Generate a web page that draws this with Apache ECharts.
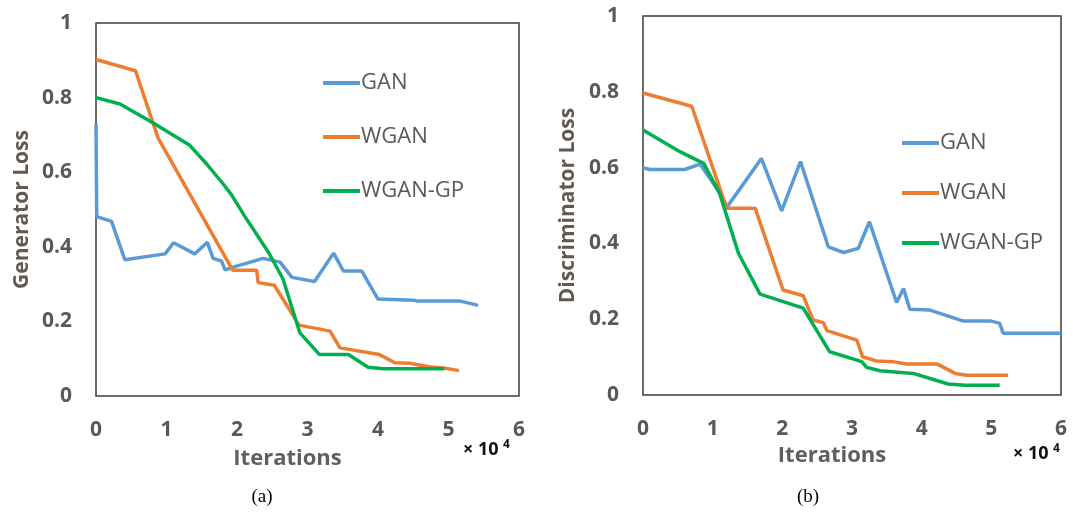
<!DOCTYPE html>
<html>
<head>
<meta charset="utf-8">
<script src="https://cdn.jsdelivr.net/npm/echarts@6/dist/echarts.min.js"></script>
<style>
  html, body { margin: 0; padding: 0; background: #fff; }
  #chart { width: 1073px; height: 514px; }
</style>
</head>
<body>
<div id="chart"></div>
<script>
// Loss curves, iterations in units of 10^4
const seriesNames = ['GAN', 'WGAN', 'WGAN-GP'];
const xTicks = [0, 1, 2, 3, 4, 5, 6];
const yTicks = [0, 0.2, 0.4, 0.6, 0.8, 1];

// (a) Generator loss
const genGAN = [[0,0.731],[0.01,0.481],[0.22,0.468],[0.41,0.365],[0.98,0.381],[1.1,0.411],[1.4,0.381],[1.58,0.412],[1.66,0.369],[1.78,0.362],[1.83,0.338],[1.97,0.347],[2.37,0.369],[2.61,0.359],[2.78,0.318],[3.1,0.307],[3.37,0.383],[3.51,0.335],[3.77,0.335],[4.0,0.26],[4.5,0.257],[4.55,0.255],[5.15,0.255],[5.42,0.243]];
const genWGAN = [[0,0.902],[0.56,0.872],[0.88,0.692],[1.94,0.337],[2.28,0.337],[2.3,0.304],[2.53,0.297],[2.88,0.19],[3.32,0.174],[3.46,0.129],[4.02,0.111],[4.24,0.089],[4.45,0.088],[4.74,0.078],[4.93,0.075],[5.15,0.068]];
const genWGANGP = [[0,0.8],[0.34,0.783],[0.8,0.733],[1.33,0.672],[1.57,0.622],[1.81,0.567],[1.92,0.54],[2.1,0.485],[2.45,0.384],[2.65,0.315],[2.89,0.17],[3.17,0.111],[3.58,0.111],[3.86,0.077],[4.07,0.073],[4.94,0.073]];

// (b) Discriminator loss
const disGAN = [[0,0.6],[0.1,0.595],[0.6,0.595],[0.82,0.609],[1.06,0.545],[1.21,0.497],[1.7,0.624],[1.99,0.486],[2.26,0.616],[2.66,0.391],[2.88,0.376],[3.09,0.387],[3.25,0.457],[3.64,0.244],[3.74,0.281],[3.83,0.226],[4.12,0.224],[4.6,0.195],[5.0,0.195],[5.12,0.189],[5.17,0.163],[6.0,0.163]];
const disWGAN = [[0,0.797],[0.7,0.762],[1.2,0.493],[1.61,0.493],[2.01,0.277],[2.3,0.262],[2.44,0.198],[2.59,0.191],[2.64,0.17],[3.07,0.145],[3.15,0.101],[3.35,0.09],[3.59,0.088],[3.78,0.082],[4.22,0.082],[4.48,0.057],[4.65,0.052],[5.24,0.052]];
const disWGANGP = [[0,0.699],[0.53,0.642],[0.87,0.611],[1.1,0.532],[1.37,0.374],[1.68,0.266],[2.3,0.229],[2.68,0.114],[3.14,0.088],[3.21,0.073],[3.4,0.064],[3.88,0.057],[4.38,0.029],[4.62,0.026],[5.12,0.026]];

const colors = ['#5B9BD5', '#ED7D31', '#00B050'];
const labelGrey = '#595959';
const tickFont = { fontFamily: 'Open Sans', fontWeight: 'bold', fontSize: 21, color: labelGrey };

function xAxis(gridIndex, nameGap) {
  return {
    type: 'value', gridIndex, min: xTicks[0], max: xTicks[xTicks.length - 1], interval: 1,
    axisLine: { show: false }, axisTick: { show: false }, splitLine: { show: false },
    axisLabel: Object.assign({ margin: 24 }, tickFont),
    name: 'Iterations', nameLocation: 'middle', nameGap,
    nameTextStyle: { fontFamily: 'Open Sans', fontWeight: 'bold', fontSize: 22, color: '#5f5f5f', padding: [0, 40, 0, 0] }
  };
}
function yAxis(gridIndex, name, nameGap) {
  return {
    type: 'value', gridIndex, min: yTicks[0], max: yTicks[yTicks.length - 1], interval: 0.2,
    axisLine: { show: false }, axisTick: { show: false }, splitLine: { show: false },
    axisLabel: Object.assign({ margin: 24 }, tickFont),
    name, nameLocation: 'middle', nameGap,
    nameTextStyle: { fontFamily: 'Open Sans', fontWeight: 'bold', fontSize: 21, color: '#625850' }
  };
}
function line(name, data, idx) {
  return {
    type: 'line', name, data, xAxisIndex: idx, yAxisIndex: idx,
    showSymbol: false, symbol: 'none',
    lineStyle: { width: 3.5, color: colors[seriesNames.indexOf(name)] },
    itemStyle: { color: colors[seriesNames.indexOf(name)] },
    animation: false
  };
}
function legend(left, top, gap) {
  return {
    orient: 'vertical', left, top, itemGap: gap, icon: 'rect', itemWidth: 37, itemHeight: 4,
    data: seriesNames,
    textStyle: { fontFamily: 'Open Sans', fontSize: 22, lineHeight: 22, color: labelGrey, padding: [0, 0, 0, -4] }
  };
}
function text(x, y, str, style) {
  return { type: 'text', x, y, style: Object.assign({ text: str }, style) };
}

const chart = echarts.init(document.getElementById('chart'), null, { renderer: 'canvas' });
chart.setOption({
  backgroundColor: '#ffffff',
  animation: false,
  grid: [
    { left: 96, top: 23, width: 423, height: 373, show: true, borderColor: '#3c3c3c', borderWidth: 1.5, backgroundColor: 'transparent' },
    { left: 643, top: 16, width: 418, height: 379, show: true, borderColor: '#3c3c3c', borderWidth: 1.5, backgroundColor: 'transparent' }
  ],
  xAxis: [xAxis(0, 52), xAxis(1, 46)],
  yAxis: [yAxis(0, 'Generator Loss', 63), yAxis(1, 'Discriminator Loss', 64)],
  legend: [legend(318, 67, 32), legend(897, 127, 28)],
  series: [
    line('GAN', genGAN, 0), line('WGAN', genWGAN, 0), line('WGAN-GP', genWGANGP, 0),
    line('GAN', disGAN, 1), line('WGAN', disWGAN, 1), line('WGAN-GP', disWGANGP, 1)
  ],
  graphic: [
    text(463, 450, '× 10', { fontFamily: 'Open Sans', fontWeight: 'bold', fontSize: 18, fill: '#111', verticalAlign: 'middle' }),
    text(503, 445, '4', { fontFamily: 'Open Sans', fontWeight: 'bold', fontSize: 12, fill: '#111', verticalAlign: 'middle' }),
    text(1013, 454, '× 10', { fontFamily: 'Open Sans', fontWeight: 'bold', fontSize: 18, fill: '#111', verticalAlign: 'middle' }),
    text(1053, 449, '4', { fontFamily: 'Open Sans', fontWeight: 'bold', fontSize: 12, fill: '#111', verticalAlign: 'middle' }),
    text(262, 497, '(a)', { fontFamily: 'Liberation Serif', fontSize: 19, fill: '#000', align: 'center', verticalAlign: 'middle' }),
    text(808, 497, '(b)', { fontFamily: 'Liberation Serif', fontSize: 19, fill: '#000', align: 'center', verticalAlign: 'middle' })
  ]
});
</script>
</body>
</html>
